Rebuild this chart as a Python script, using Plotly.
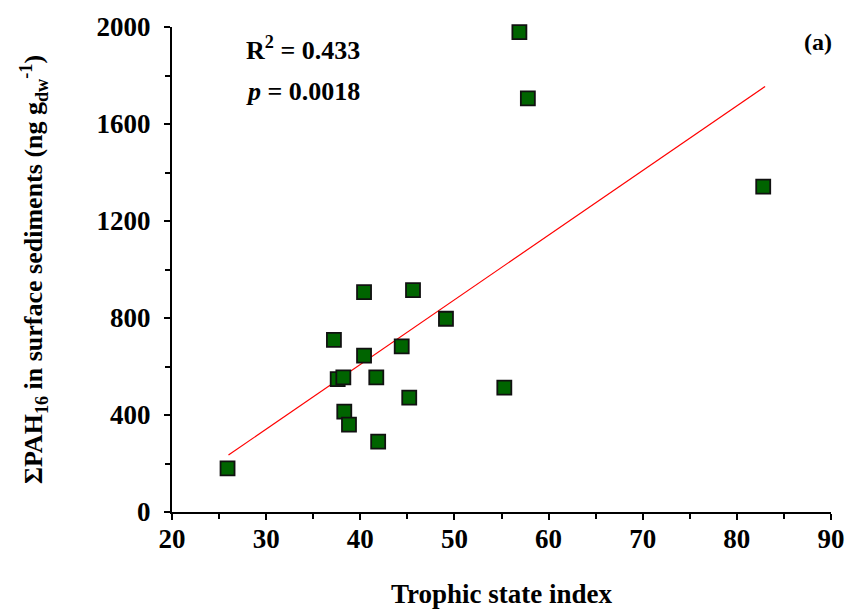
import plotly.graph_objects as go

# Data
tsi = [25.9, 37.2, 37.6, 38.2, 38.3, 38.8, 40.4, 40.4, 41.7, 41.9, 44.4, 45.2, 45.6, 49.1, 55.3, 56.9, 57.8, 82.8]
pah = [180, 710, 548, 555, 414, 360, 907, 645, 555, 290, 683, 472, 915, 797, 513, 1979, 1706, 1342]

fit_x = [26.0, 83.0]
fit_y = [235, 1755]

x_ticks = [20, 30, 40, 50, 60, 70, 80, 90]
y_ticks = [0, 400, 800, 1200, 1600, 2000]

FONT = "Liberation Serif"

fig = go.Figure()
fig.add_trace(go.Scatter(
    x=fit_x, y=fit_y, mode="lines",
    line=dict(color="#ff0000", width=1.2),
    showlegend=False, hoverinfo="skip"))
fig.add_trace(go.Scatter(
    x=tsi, y=pah, mode="markers",
    marker=dict(symbol="square", size=14, color="#006400",
                line=dict(color="#111111", width=1.8)),
    cliponaxis=False, showlegend=False))

axis_common = dict(
    showgrid=False, zeroline=False, showline=True, linecolor="black", linewidth=2,
    ticks="outside", ticklen=6, tickwidth=2, tickcolor="black",
    tickfont=dict(family=FONT, size=27, color="black", weight="bold"),
    mirror=False, automargin=False,
)

fig.update_xaxes(
    range=[20, 90], tickvals=x_ticks, ticktext=[str(v) for v in x_ticks],
    ticklabelstandoff=-4,
    minor=dict(dtick=5, ticks="outside", ticklen=5, tickwidth=2, tickcolor="black", tick0=20),
    title=dict(text="<b>Trophic state index</b>", font=dict(family=FONT, size=27, color="black"), standoff=31),
    **axis_common)
fig.update_yaxes(
    range=[0, 2000], tickvals=y_ticks, ticktext=[str(v) for v in y_ticks],
    ticklabelstandoff=8,
    minor=dict(dtick=200, ticks="outside", ticklen=5, tickwidth=2, tickcolor="black", tick0=0),
    title=dict(text="<b>ΣPAH<sub>16</sub> in surface sediments (ng g<sub>dw</sub><sup>-1</sup>)</b>",
               font=dict(family=FONT, size=26, color="black"), standoff=46),
    **axis_common)

fig.add_annotation(xref="paper", yref="paper", x=0.11, y=0.955, xanchor="left", yanchor="middle",
                   text="<b>R<sup>2</sup> = 0.433</b>", showarrow=False,
                   font=dict(family=FONT, size=26, color="black"))
fig.add_annotation(xref="paper", yref="paper", x=0.11, y=0.868, xanchor="left", yanchor="middle",
                   text="<b><i>p</i> = 0.0018</b>", showarrow=False,
                   font=dict(family=FONT, size=26, color="black"))
fig.add_annotation(xref="paper", yref="paper", x=1.005, y=0.97, xanchor="right", yanchor="middle",
                   text="<b>(a)</b>", showarrow=False,
                   font=dict(family=FONT, size=24, color="black"))

fig.update_layout(
    width=846, height=614,
    margin=dict(l=172, r=15, t=27, b=102),
    plot_bgcolor="white", paper_bgcolor="white",
)

fig.write_html("out.html")
